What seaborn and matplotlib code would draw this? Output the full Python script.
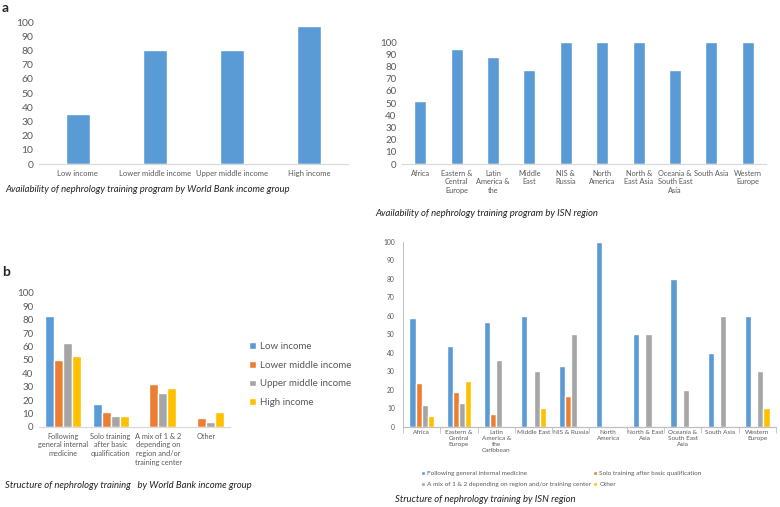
import numpy as np
import pandas as pd
import seaborn as sns
import matplotlib.pyplot as plt
from matplotlib.ticker import FixedLocator

# ---- data ----
income_groups = ["Low income", "Lower middle income", "Upper middle income", "High income"]
income_avail = [35, 80, 80, 97]

isn_regions = ["Africa", "Eastern &\nCentral\nEurope", "Latin\nAmerica &\nthe", "Middle\nEast",
               "NIS &\nRussia", "North\nAmerica", "North &\nEast Asia", "Oceania &\nSouth East\nAsia",
               "South Asia", "Western\nEurope"]
isn_avail = [52, 94, 88, 77, 100, 100, 100, 77, 100, 100]

structure_cats = ["Following\ngeneral internal\nmedicine", "Solo training\nafter basic\nqualification",
                  "A mix of 1 & 2\ndepending on\nregion and/or\ntraining center", "Other"]
struct_low = [83, 17, 0, 0]
struct_lower_mid = [50, 11, 32, 7]
struct_upper_mid = [63, 8, 25, 4]
struct_high = [53, 8, 29, 11]

isn_regions_b = ["Africa", "Eastern &\nCentral\nEurope", "Latin\nAmerica &\nthe\nCaribbean", "Middle East",
                 "NIS & Russia", "North\nAmerica", "North & East\nAsia", "Oceania &\nSouth East\nAsia",
                 "South Asia", "Western\nEurope"]
structure_types = ["Following general internal medicine", "Solo training after basic qualification",
                   "A mix of 1 & 2 depending on region and/or training center", "Other"]
isn_following = [59, 44, 57, 60, 33, 100, 50, 80, 40, 60]
isn_solo = [24, 19, 7, 0, 17, 0, 0, 0, 0, 0]
isn_mix = [12, 13, 36, 30, 50, 0, 50, 20, 60, 30]
isn_other = [6, 25, 0, 10, 0, 0, 0, 0, 0, 10]

colors = ["#5B9BD5", "#ED7D31", "#A5A5A5", "#FFC000"]
txt = "#595959"
axis_gray = "#D9D9D9"

sns.set_theme(style="white")
plt.rcParams["font.family"] = ["Lato", "DejaVu Sans"]

fig = plt.figure(figsize=(7.8, 5.07), dpi=100)

ax1 = fig.add_axes([0.05, 0.6765, 0.396, 0.280])
ax2 = fig.add_axes([0.5154, 0.6765, 0.4667, 0.2406])
ax3 = fig.add_axes([0.05, 0.1578, 0.2449, 0.2643])
ax4 = fig.add_axes([0.5167, 0.1578, 0.478, 0.3649])

# panel a, left
sns.barplot(x=income_groups, y=income_avail, color=colors[0], width=0.31, saturation=1, ax=ax1)
# panel a, right
sns.barplot(x=isn_regions, y=isn_avail, color=colors[0], width=0.33, saturation=1, ax=ax2)

# panel b, left
df3 = pd.DataFrame({
    "cat": np.repeat(structure_cats, 4),
    "grp": income_groups * len(structure_cats),
    "val": np.column_stack([struct_low, struct_lower_mid, struct_upper_mid, struct_high]).ravel(),
})
sns.barplot(data=df3, x="cat", y="val", hue="grp", order=structure_cats, hue_order=income_groups,
            palette=colors, width=0.75, saturation=1, ax=ax3)

# panel b, right
df4 = pd.DataFrame({
    "region": np.repeat(isn_regions_b, 4),
    "type": structure_types * len(isn_regions_b),
    "val": np.column_stack([isn_following, isn_solo, isn_mix, isn_other]).ravel(),
})
sns.barplot(data=df4, x="region", y="val", hue="type", order=isn_regions_b, hue_order=structure_types,
            palette=colors, width=0.66, saturation=1, ax=ax4)

for ax, ysz, xsz in [(ax1, 7.5, 5.5), (ax2, 7, 5.3), (ax3, 7, 5.3), (ax4, 4.8, 4.6)]:
    ax.set_ylim(0, 100)
    ax.set_yticks(range(0, 101, 10))
    ax.set_xlabel("")
    ax.set_ylabel("")
    ax.tick_params(axis="y", labelsize=ysz, colors=txt, length=0, pad=4)
    ax.tick_params(axis="x", labelsize=xsz, colors=txt, length=0, pad=4)
    for s in ["top", "right", "left"]:
        ax.spines[s].set_visible(False)
    ax.spines["bottom"].set_color(axis_gray)
    ax.spines["bottom"].set_linewidth(0.9)
    for lbl in ax.get_xticklabels():
        lbl.set_linespacing(1.3)

ax1.set_xlim(-0.5, 3.5)
ax2.set_xlim(-0.5, 9.5)
ax3.set_xlim(-0.5, 3.5)
ax4.set_xlim(-0.5, 9.5)

# panel b right: excel style axis with ticks
ax4.spines["left"].set_visible(True)
ax4.spines["left"].set_color("#BFBFBF")
ax4.spines["left"].set_linewidth(0.7)
ax4.spines["bottom"].set_color("#BFBFBF")
ax4.tick_params(axis="y", length=3, width=0.6, color="#BFBFBF", pad=3)
ax4.xaxis.set_minor_locator(FixedLocator(np.arange(-0.5, 10, 1)))
ax4.tick_params(axis="x", which="minor", length=4, width=0.6, color="#BFBFBF", bottom=True)
ax4.tick_params(axis="x", pad=2)

# legends
ax3.legend(loc="upper left", bbox_to_anchor=(245 / 780, 1 - 338 / 507), bbox_transform=fig.transFigure,
           frameon=False, fontsize=7, labelcolor=txt, handlelength=0.7, handleheight=0.7,
           handletextpad=0.4, labelspacing=1.0, borderaxespad=0)
h4, l4 = ax4.get_legend_handles_labels()
idx = [0, 2, 1, 3]  # column-first fill -> rows like excel
ax4.legend([h4[i] for i in idx], [l4[i] for i in idx],
           loc="upper left", bbox_to_anchor=(418 / 780, 1 - 468 / 507), bbox_transform=fig.transFigure,
           ncol=2, frameon=False, fontsize=4.6, labelcolor=txt, handlelength=0.7, handleheight=0.7,
           handletextpad=0.3, labelspacing=0.9, columnspacing=0.3, borderaxespad=0)

# panel letters and captions
fig.text(2 / 780, 1 - 8 / 507, "a", fontsize=10, fontweight="bold", va="center", ha="left")
fig.text(2 / 780, 1 - 272 / 507, "b", fontsize=10, fontweight="bold", va="center", ha="left")
cap = dict(fontsize=6.8, style="italic", color="#222222", va="center", ha="left")
fig.text(5 / 780, 1 - 190 / 507, "Availability of nephrology training program by World Bank income group", **cap)
fig.text(375 / 780, 1 - 214 / 507, "Availability of nephrology training program by ISN region", **cap)
fig.text(5 / 780, 1 - 486 / 507, "Structure of nephrology training   by World Bank income group", **cap)
fig.text(395 / 780, 1 - 500 / 507, "Structure of nephrology training by ISN region", **cap)

fig.savefig("out.png", dpi=100)
